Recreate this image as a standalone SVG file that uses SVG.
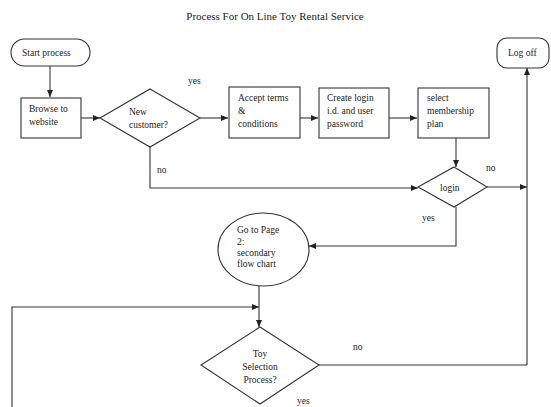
<svg xmlns="http://www.w3.org/2000/svg" width="551" height="407" viewBox="0 0 551 407">
<style>
text{font-family:"Liberation Serif","Times New Roman",serif;font-size:9.5px;fill:#222}
.title{font-size:11px}
.shape{fill:#fff;stroke:#333;stroke-width:1.1}
.conn{fill:none;stroke:#333;stroke-width:1.1}
</style>
<defs>
<marker id="ah" markerWidth="8" markerHeight="8" refX="7" refY="4" orient="auto" markerUnits="userSpaceOnUse">
<path d="M0,1 L7,4 L0,7 Z" fill="#222"/>
</marker>
</defs>
<rect width="551" height="407" fill="#fff"/>
<text class="title" x="275" y="20" text-anchor="middle">Process For On Line Toy Rental Service</text>

<g id="connectors">
<path class="conn" d="M50,66 V97" marker-end="url(#ah)"/>
<path class="conn" d="M81,118 H100" marker-end="url(#ah)"/>
<path class="conn" d="M200,118 H228" marker-end="url(#ah)"/>
<path class="conn" d="M300,118 H318" marker-end="url(#ah)"/>
<path class="conn" d="M389,118 H417" marker-end="url(#ah)"/>
<path class="conn" d="M456,138 V167" marker-end="url(#ah)"/>
<path class="conn" d="M150,147 V188 H418" marker-end="url(#ah)"/>
<path class="conn" d="M487,187 H527" marker-end="url(#ah)"/>
<path class="conn" d="M527,365 V68" marker-end="url(#ah)"/>
<path class="conn" d="M319,365 H527"/>
<path class="conn" d="M456,207 V246 H309" marker-end="url(#ah)"/>
<path class="conn" d="M259,286 V327" marker-end="url(#ah)"/>
<path class="conn" d="M12,407 V307 H259" marker-end="url(#ah)"/>
</g>

<g id="start">
<rect class="shape" x="11" y="39" width="79" height="27" rx="13.5"/>
<text x="22" y="56">Start process</text>
</g>
<g id="browse">
<rect class="shape" x="21" y="98" width="60" height="40"/>
<text x="29" y="112">Browse to</text>
<text x="29" y="125">website</text>
</g>
<g id="newcustomer">
<polygon class="shape" points="150,89 200,118 150,147 100,118"/>
<text x="129" y="115">New</text>
<text x="129" y="128">customer?</text>
</g>
<g id="accept">
<rect class="shape" x="229" y="87" width="71" height="51"/>
<text x="238" y="101">Accept terms</text>
<text x="238" y="114">&amp;</text>
<text x="238" y="127">conditions</text>
</g>
<g id="create">
<rect class="shape" x="319" y="88" width="70" height="50"/>
<text x="327" y="101">Create login</text>
<text x="327" y="114">i.d. and user</text>
<text x="327" y="127">password</text>
</g>
<g id="membership">
<rect class="shape" x="418" y="88" width="71" height="50"/>
<text x="427" y="101">select</text>
<text x="427" y="114">membership</text>
<text x="427" y="127">plan</text>
</g>
<g id="login">
<polygon class="shape" points="454,167 487,187 454,207 418,187"/>
<text x="440" y="191">login</text>
</g>
<g id="logoff">
<rect class="shape" x="497" y="38" width="52" height="30" rx="10"/>
<text x="508" y="56">Log off</text>
</g>
<g id="gotopage2">
<ellipse class="shape" cx="263.5" cy="249.5" rx="45.5" ry="36.5"/>
<text x="237" y="233">Go to Page</text>
<text x="237" y="245">2:</text>
<text x="237" y="256">secondary</text>
<text x="237" y="267">flow chart</text>
</g>
<g id="toyselection">
<polygon class="shape" points="260,327 319,365 260,404 201,365"/>
<text x="260" y="357" text-anchor="middle">Toy</text>
<text x="260" y="370" text-anchor="middle">Selection</text>
<text x="260" y="383" text-anchor="middle">Process?</text>
</g>

<g id="labels">
<text x="188" y="84">yes</text>
<text x="157" y="173">no</text>
<text x="486" y="171">no</text>
<text x="422" y="221">yes</text>
<text x="353" y="350">no</text>
<text x="297" y="404">yes</text>
</g>
</svg>
